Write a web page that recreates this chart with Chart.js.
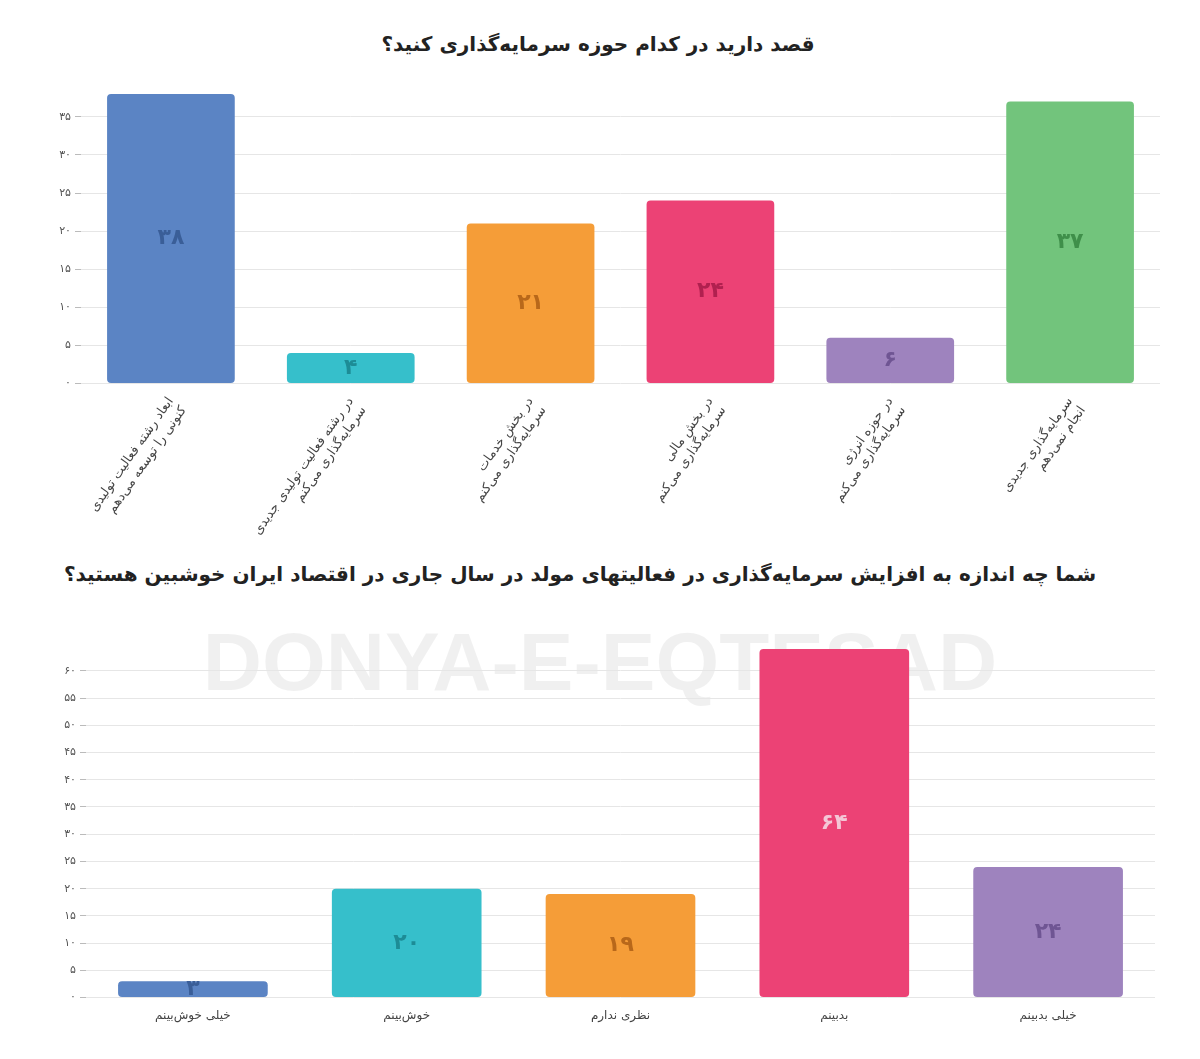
<!DOCTYPE html>
<html><head><meta charset="utf-8">
<script src="https://cdn.jsdelivr.net/npm/chart.js@4"></script>
<style>
body{margin:0;background:#fff;width:1200px;height:1059px;position:relative;overflow:hidden;font-family:"DejaVu Sans",sans-serif}
.t{position:absolute;left:0;width:1200px;text-align:center;font-weight:bold;font-size:20px;color:#222;direction:rtl}
.wm{position:absolute;left:0;width:1200px;text-align:center;top:615px;font-size:82px;font-weight:bold;color:rgba(0,0,0,0.06);font-family:"Liberation Sans"}
</style></head><body>
<div class="t" style="top:32px;left:-2px">قصد دارید در کدام حوزه سرمایه‌گذاری کنید؟</div>
<div class="t" style="top:562px;left:-20px">شما چه اندازه به افزایش سرمایه‌گذاری در فعالیتهای مولد در سال جاری در اقتصاد ایران خوشبین هستید؟</div>
<div class="wm">DONYA-E-EQTESAD</div>
<div style="position:absolute;left:0;top:80px;width:1200px;height:470px"><canvas id="c1"></canvas></div>
<div style="position:absolute;left:0;top:616px;width:1200px;height:420px"><canvas id="c2"></canvas></div>
<script>
const cats1=[["ابعاد رشته فعالیت تولیدی","کنونی را توسعه می‌دهم"],["در رشته فعالیت تولیدی جدیدی","سرمایه‌گذاری می‌کنم"],["در بخش خدمات","سرمایه‌گذاری می‌کنم"],["در بخش مالی","سرمایه‌گذاری می‌کنم"],["در حوزه انرژی","سرمایه‌گذاری می‌کنم"],["سرمایه‌گذاری جدیدی","انجام نمی‌دهم"]];
const vals1=[38,4,21,24,6,37];
const cats2=["خیلی خوش‌بینم","خوش‌بینم","نظری ندارم","بدبینم","خیلی بدبینم"];
const vals2=[3,20,19,64,24];
const cols1=["#5b84c4","#36bfcb","#f59d38","#ec4275","#9e83be","#72c47c"];
const dark1=["#3a5e98","#1d8c96","#b8681a","#b0204f","#6f5593","#3f8f4a"];
const cols2=["#5b84c4","#36bfcb","#f59d38","#ec4275","#9e83be"];
const dark2=["#3a5e98","#1d8c96","#b8681a","#f4c6d6","#6f5593"];
const fa=n=>String(n).replace(/\d/g,d=>"۰۱۲۳۴۵۶۷۸۹"[d]);
const lbl={id:"lbl",afterDatasetsDraw(ch){const ctx=ch.ctx;const ds=ch.data.datasets[0];const dk=ch.options.plugins.lbl.colors;
ch.getDatasetMeta(0).data.forEach((b,i)=>{ctx.save();ctx.fillStyle=dk[i];ctx.font="bold 22px 'DejaVu Sans'";ctx.textAlign="center";ctx.textBaseline="middle";
const y=(b.y+b.base)/2;ctx.fillText(fa(ds.data[i]),b.x,y);ctx.restore();});}};
function mk(id,cats,vals,cols,dark,max,bp,pad,rot,fs){
new Chart(document.getElementById(id),{type:"bar",data:{labels:cats,datasets:[{data:vals,backgroundColor:cols,borderRadius:4,borderSkipped:false,barPercentage:bp,categoryPercentage:1}]},
options:{responsive:true,maintainAspectRatio:false,animation:false,layout:{padding:pad},
plugins:{legend:{display:false},tooltip:{enabled:false},lbl:{colors:dark}},
scales:{y:{min:0,max:max,afterFit(a){a.width=36},afterBuildTicks(a){a.ticks=a.ticks.filter(t=>t.value%5===0)},ticks:{stepSize:5,callback:v=>fa(v),font:{size:11,family:"DejaVu Sans"},color:"#555",padding:4},grid:{color:"#e6e6e6",tickLength:6,tickColor:"#bbb"},border:{display:false}},
x:{grid:{display:false},border:{display:false},ticks:{maxRotation:rot,minRotation:rot,font:{size:fs,family:"DejaVu Sans"},color:"#444"}}}},plugins:[lbl]});}
mk("c1",cats1,vals1,cols1,dark1,38,0.71,{top:14,left:45,right:40},55,13);
mk("c2",cats2,vals2,cols2,dark2,64,0.70,{top:33,left:50,right:45,bottom:10},0,12);
</script></body></html>
